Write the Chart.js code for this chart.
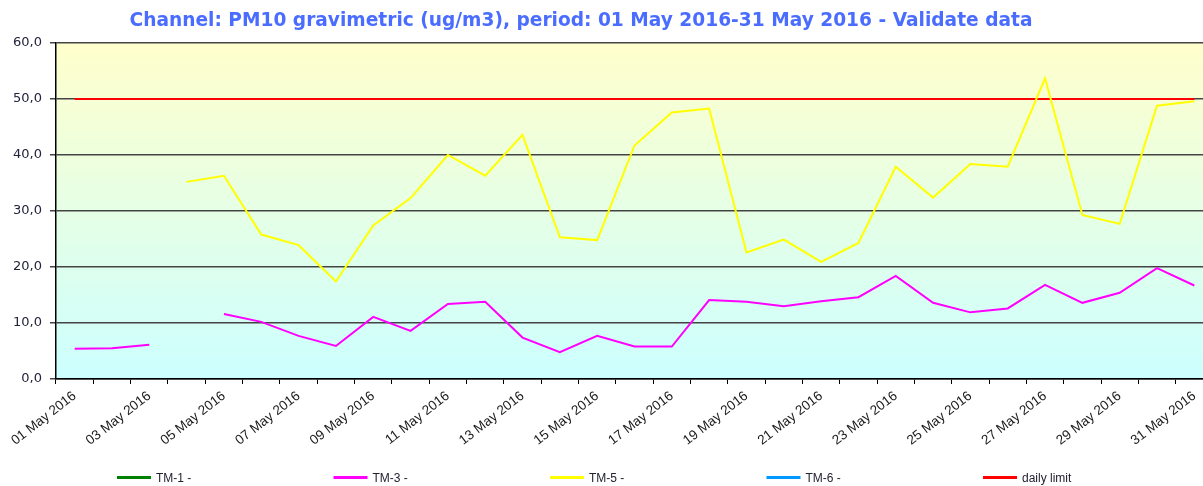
<!DOCTYPE html>
<html>
<head>
<meta charset="utf-8">
<script src="https://cdn.jsdelivr.net/npm/chart.js@4/dist/chart.umd.min.js"></script>
<style>
html,body{margin:0;padding:0;background:#fff;overflow:hidden;}
#wrap{width:1216px;height:486px;}
</style>
</head>
<body>
<div id="wrap"><canvas id="c" width="1216" height="486"></canvas></div>
<script>
const titleText = 'Channel: PM10 gravimetric (ug/m3), period: 01 May 2016-31 May 2016 - Validate data';
const days = ['01 May 2016','02 May 2016','03 May 2016','04 May 2016','05 May 2016','06 May 2016','07 May 2016','08 May 2016','09 May 2016','10 May 2016','11 May 2016','12 May 2016','13 May 2016','14 May 2016','15 May 2016','16 May 2016','17 May 2016','18 May 2016','19 May 2016','20 May 2016','21 May 2016','22 May 2016','23 May 2016','24 May 2016','25 May 2016','26 May 2016','27 May 2016','28 May 2016','29 May 2016','30 May 2016','31 May 2016'];
const tm1 = [null,null,null,null,null,null,null,null,null,null,null,null,null,null,null,null,null,null,null,null,null,null,null,null,null,null,null,null,null,null,null];
const tm3 = [5.4,5.5,6.1,null,11.6,10.2,7.7,5.9,11.1,8.6,13.4,13.8,7.4,4.8,7.7,5.8,5.8,14.1,13.8,13.0,13.9,14.6,18.4,13.6,11.9,12.6,16.8,13.6,15.4,19.8,16.7];
const tm5 = [null,null,null,35.2,36.3,25.8,23.9,17.4,27.4,32.3,40.0,36.3,43.6,25.3,24.8,41.7,47.6,48.3,22.6,24.9,20.9,24.3,37.9,32.4,38.4,37.9,53.7,29.3,27.7,48.8,49.6];
const tm6 = [null,null,null,null,null,null,null,null,null,null,null,null,null,null,null,null,null,null,null,null,null,null,null,null,null,null,null,null,null,null,null];
const dailyLimit = [50,50,50,50,50,50,50,50,50,50,50,50,50,50,50,50,50,50,50,50,50,50,50,50,50,50,50,50,50,50,50];
const yTicks = [0,10,20,30,40,50,60];

const bgPlugin = {
  id: 'bg',
  beforeDraw(chart) {
    const {ctx, chartArea: a} = chart;
    const g = ctx.createLinearGradient(0, a.top, 0, a.bottom);
    g.addColorStop(0, '#ffffcc');
    g.addColorStop(1, '#ccffff');
    ctx.save();
    ctx.fillStyle = g;
    ctx.fillRect(a.left, a.top, a.right - a.left, a.bottom - a.top);
    ctx.restore();
  }
};

const titlePlugin = {
  id: 'ctitle',
  afterDraw(chart) {
    const ctx = chart.ctx;
    ctx.save();
    ctx.font = 'bold 18.6px "DejaVu Sans", Verdana, sans-serif';
    ctx.fillStyle = '#4a6dff';
    ctx.textAlign = 'center';
    ctx.textBaseline = 'middle';
    ctx.fillText(titleText, 581, 21);
    ctx.restore();
  }
};

const legendPlugin = {
  id: 'clegend',
  afterDraw(chart) {
    const ctx = chart.ctx;
    ctx.save();
    ctx.font = '12px "Liberation Sans", Arial, sans-serif';
    ctx.textBaseline = 'middle';
    ctx.textAlign = 'left';
    chart.data.datasets.forEach((ds, i) => {
      const x = 117 + i * 216.5;
      const y = 477.5;
      ctx.strokeStyle = ds.borderColor;
      ctx.lineWidth = 3;
      ctx.beginPath();
      ctx.moveTo(x, y);
      ctx.lineTo(x + 34, y);
      ctx.stroke();
      ctx.fillStyle = '#222233';
      ctx.fillText(ds.label, x + 39, y + 1);
    });
    ctx.restore();
  }
};

const mk = (label, data, color) => ({
  label, data, borderColor: color, backgroundColor: color,
  borderWidth: 2, pointRadius: 0, pointHoverRadius: 0, spanGaps: false, tension: 0, fill: false
});

new Chart(document.getElementById('c'), {
  type: 'line',
  data: {
    labels: days,
    datasets: [
      mk('TM-1 -', tm1, '#008000'),
      mk('TM-3 -', tm3, '#ff00ff'),
      mk('TM-5 -', tm5, '#ffff00'),
      mk('TM-6 -', tm6, '#0099ff'),
      mk('daily limit', dailyLimit, '#ff0000')
    ]
  },
  options: {
    responsive: false,
    animation: false,
    layout: { padding: { top: 43, right: 3, bottom: 27, left: 0 } },
    plugins: { legend: { display: false }, title: { display: false }, tooltip: { enabled: false } },
    scales: {
      x: {
        type: 'category',
        offset: true,
        grid: { drawOnChartArea: false, drawTicks: true, tickLength: 5, offset: true, color: '#000' },
        border: { display: true, color: '#000', width: 1.5 },
        ticks: {
          autoSkip: false, maxRotation: 38, minRotation: 38, padding: 4,
          color: '#1a1a1a', font: { family: '"Liberation Sans", Arial, sans-serif', size: 13.5 },
          callback: function(v, i) { return i % 2 === 0 ? this.getLabelForValue(v) : ''; }
        },
        afterFit: s => { s.height = 80; }
      },
      y: {
        min: 0, max: 60,
        afterBuildTicks: s => { s.ticks = yTicks.map(v => ({ value: v })); },
        grid: { color: '#444', lineWidth: 1.5, drawTicks: true, tickLength: 6 },
        border: { display: true, color: '#000', width: 1.5 },
        ticks: {
          padding: 8, color: '#22223a',
          font: { family: '"DejaVu Sans", Verdana, sans-serif', size: 13 },
          callback: v => v.toFixed(1).replace('.', ',')
        },
        afterFit: s => { s.width = 56; }
      }
    }
  },
  plugins: [bgPlugin, titlePlugin, legendPlugin]
});
</script>
</body>
</html>
